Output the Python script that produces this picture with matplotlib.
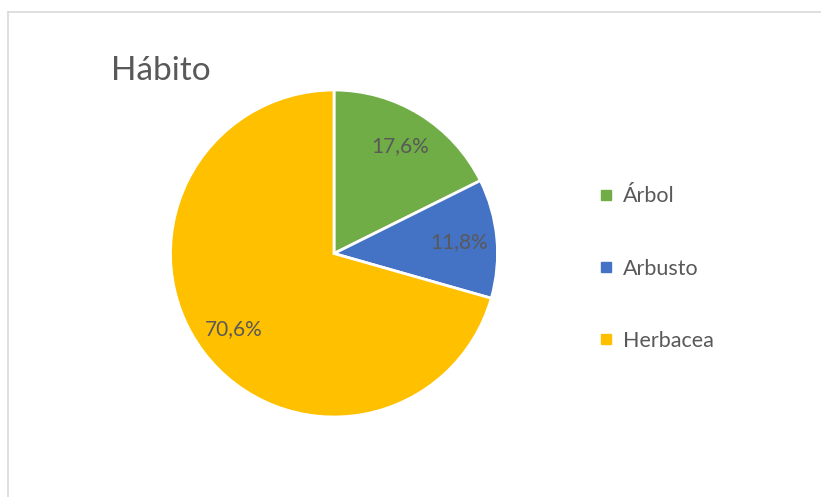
import matplotlib
matplotlib.use("Agg")
import matplotlib.pyplot as plt
from matplotlib.lines import Line2D

categories = ["Árbol", "Arbusto", "Herbacea"]
counts = [3, 2, 12]
colors = ["#70AD47", "#4472C4", "#FFC000"]
title = "Hábito"

plt.rcParams['font.family'] = ['Lato', 'DejaVu Sans']
txt = "#595959"

W, H = 821, 497
fig = plt.figure(figsize=(W / 100, H / 100), dpi=100)

# chart frame (extends past right/bottom edges)
fig.add_artist(Line2D([8 / W, 8 / W], [0, 1 - 12 / H], transform=fig.transFigure,
                      color="#D9D9D9", lw=1.2))
fig.add_artist(Line2D([8 / W, 1], [1 - 12 / H, 1 - 12 / H], transform=fig.transFigure,
                      color="#D9D9D9", lw=1.2))

cx, cy, r = 334, 253.5, 163.5
ax = fig.add_axes([(cx - r) / W, (H - cy - r) / H, 2 * r / W, 2 * r / H])
wedges, texts, autotexts = ax.pie(
    counts, colors=colors, startangle=90, counterclock=False,
    autopct=lambda p: f"{p:.1f}%".replace(".", ","), pctdistance=0.77,
    wedgeprops=dict(edgecolor="white", linewidth=2),
    textprops=dict(color=txt, fontsize=15))
ax.set_xlim(-1, 1)
ax.set_ylim(-1, 1)
ax.set_aspect("equal")
ax.axis("off")

fig.text(111 / W, 1 - 80 / H, title, fontsize=24, color=txt, ha="left", va="baseline")

handles = [Line2D([], [], linestyle="none", marker="s", markersize=7,
                  markerfacecolor=c, markeredgecolor=c) for c in colors]
leg = fig.legend(handles, categories, loc="center left",
                 bbox_to_anchor=(600 / W, 1 - 268.5 / H), frameon=False,
                 fontsize=15.5, labelspacing=2.42, handlelength=0.6,
                 handletextpad=0.45, borderaxespad=0, borderpad=0)
for t in leg.get_texts():
    t.set_color(txt)

fig.savefig("out.png", dpi=100)
